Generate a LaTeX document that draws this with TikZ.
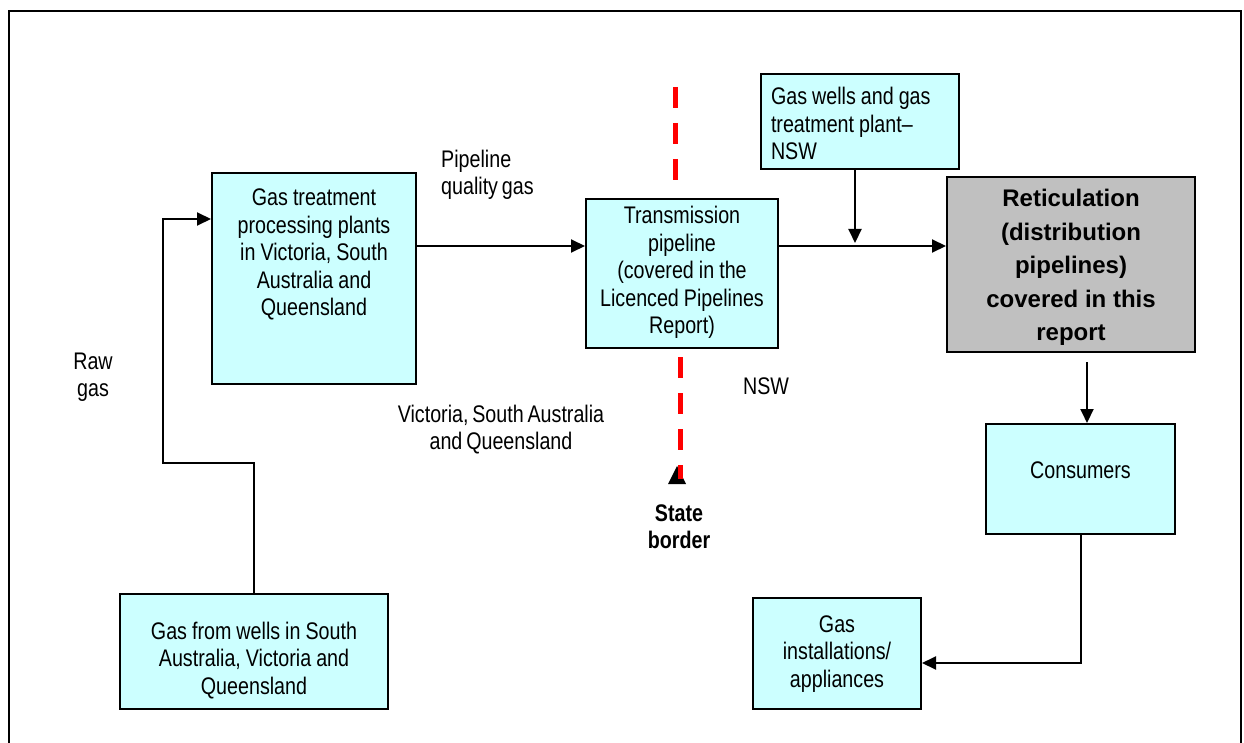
\documentclass[tikz,border=0pt]{standalone}
\usepackage{fontspec}
\setmainfont{Liberation Sans}[FakeStretch=0.82,WordSpace={0.7,0,0}]
\newfontfamily\widesans{Liberation Sans}[WordSpace={1,0,0}]
\usepackage{tikz}
\usetikzlibrary{arrows.meta}
\definecolor{boxcyan}{HTML}{CCFFFF}
\definecolor{boxgrey}{HTML}{C0C0C0}

\begin{document}
\begin{tikzpicture}[x=1pt,y=-1pt]
                      \tikzstyle{blk}=[draw=black,line width=2pt,fill=boxcyan,inner sep=0pt,anchor=north west,align=center,font=\fontsize{24}{27.5}\selectfont,execute at begin node={\spaceskip=0.21em\relax}]
                      \tikzstyle{lbl}=[inner sep=0pt,align=center,font=\fontsize{24}{27.5}\selectfont]
                      \tikzstyle{flow}=[line width=2pt,-{Triangle[length=14pt,width=13pt]}]
                      \tikzstyle{border}=[red,line width=5pt,dash pattern=on 21pt off 15pt]
                      \useasboundingbox (0,0) rectangle (1244,743);
                      \draw[line width=2pt] (9,743) -- (9,11) -- (1241,11) -- (1241,743);
                      % state border
                      \draw[border] (675,87) -- (675,186);
                      \fill (668,484) -- (686,484) -- (677,466) -- cycle;
                      \draw[border] (680,357) -- (680,479);
                      % boxes
                      \node[blk,text width=204pt,text height=33pt,text depth=178pt] (gtp) at (211,172) {Gas treatment\\processing plants\\in Victoria, South\\Australia and\\Queensland};
                      \node[blk,text width=268pt,text height=45pt,text depth=70pt] (wells) at (119,593) {Gas from wells in South\\Australia, Victoria and\\Queensland};
                      \node[blk,text width=192pt,text height=25pt,text depth=124pt] (trans) at (585,198) {Transmission\\pipeline\\(covered in the\\Licenced Pipelines\\Report)};
                      \node[blk,align=left,inner xsep=10pt,text width=178pt,text height=31pt,text depth=64pt] (nsw) at (760,73) {Gas wells and gas\\treatment plant--\\NSW};
                      \node[blk,fill=boxgrey,text width=248pt,text height=30pt,text depth=145pt,font=\widesans\bfseries\fontsize{24}{33.5}\selectfont,execute at begin node={\spaceskip=0.278em\relax}] (retic) at (946,176) {Reticulation\\(distribution\\pipelines)\\covered in this\\report};
                      \node[blk,text width=189pt,text height=54pt,text depth=56pt] (cons) at (985,423) {Consumers};
                      \node[blk,text width=168pt,text height=34pt,text depth=77pt] (app) at (752,597) {Gas\\installations/\\appliances};
                      % labels
                      \node[lbl,anchor=west,align=left] (pqg) at (441,175) {Pipeline\\quality gas};
                      \node[lbl] (raw) at (93,377) {Raw\\gas};
                      \node[lbl] (vsa) at (501,429.5) {Victoria, South Australia\\and Queensland};
                      \node[lbl] (nswlbl) at (766,386) {NSW};
                      \node[lbl,font=\bfseries\fontsize{24}{27}\selectfont] (stb) at (679,526.5) {State\\border};
                      % connectors
                      \coordinate (junc) at (855,246);
                      \draw[flow] (wells.north) |- (163,463) |- (gtp.west |- 0,219);
                      \draw[flow] (gtp.east |- junc) -- (trans.west |- junc);
                      \draw[flow] (nsw.south -| junc) -- ([yshift=3pt]junc);
                      \draw[flow] (trans.east |- junc) -- (retic.west |- junc);
                      \draw[flow] ([xshift=16pt,yshift=-9pt]retic.south) -- ([xshift=6.5pt]cons.north);
                      \draw[flow] ([xshift=0.5pt]cons.south) |- (app.east |- 0,663);
                  \end{tikzpicture}
\end{document}
